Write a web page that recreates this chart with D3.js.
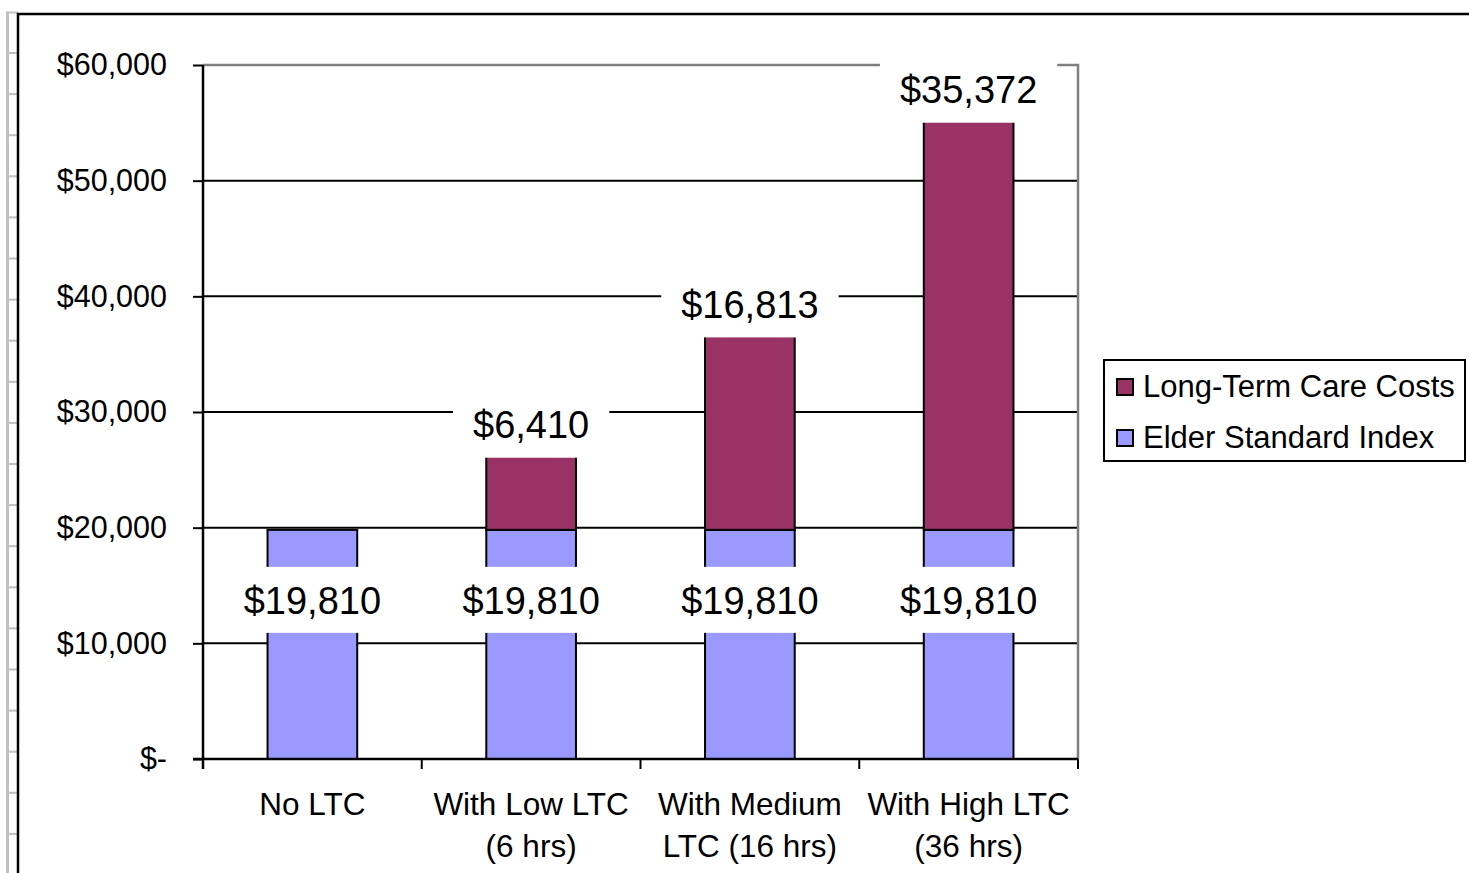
<!DOCTYPE html>
<html lang="en">
<head>
  <meta charset="utf-8">
  <title>Elder Standard Index and Long-Term Care Costs</title>
  <script src="https://d3js.org/d3.v7.min.js"></script>
  <style>
body { margin: 0; background: #fff; }
svg { display: block; font-family: "Liberation Sans", Arial, sans-serif; }
</style>
</head>
<body>
<div id="chart"></div>
<script>
// chart values
var categories = ["No LTC", "With Low LTC|(6 hrs)", "With Medium|LTC (16 hrs)", "With High LTC|(36 hrs)"];
var elderIndex = [19810, 19810, 19810, 19810];
var ltcCosts = [0, 6410, 16813, 35372];
var seriesNames = ["Long-Term Care Costs", "Elder Standard Index"];
var seriesColors = ["#993366", "#9999ff"];
var yTicks = [0, 10000, 20000, 30000, 40000, 50000, 60000];

var W = 1469, H = 873;
var plot = {left: 203, right: 1078, top: 65, bottom: 759};

var svg = d3.select("#chart").append("svg")
    .attr("width", W)
    .attr("height", H);

// spreadsheet-like frame on the left and top
svg.append("line").attr("x1", 7.5).attr("x2", 7.5).attr("y1", 12).attr("y2", H)
  .attr("stroke", "#c0c0c0").attr("stroke-width", 3);
svg.append("line").attr("x1", 6).attr("x2", 18).attr("y1", 12.5).attr("y2", 12.5)
  .attr("stroke", "#c0c0c0").attr("stroke-width", 2);
d3.range(53, H, 41.1).forEach(function(yy) {
  svg.append("line").attr("x1", 8).attr("x2", 18).attr("y1", yy).attr("y2", yy)
    .attr("stroke", "#c0c0c0").attr("stroke-width", 2);
});
svg.append("path")
  .attr("d", "M18," + H + "V14H" + W)
  .attr("fill", "none").attr("stroke", "#000").attr("stroke-width", 2.5);

var x = d3.scaleBand()
  .domain(categories)
  .range([plot.left, plot.right])
  .paddingInner(0.59)
  .paddingOuter(0.295);

var y = d3.scaleLinear()
  .domain([0, 60000])
  .range([plot.bottom, plot.top]);

// gridlines
svg.append("g").selectAll("line")
  .data(yTicks.filter(function(d) { return d > 0 && d < 60000; }))
  .enter().append("line")
    .attr("x1", plot.left).attr("x2", plot.right)
    .attr("y1", function(d) { return y(d); })
    .attr("y2", function(d) { return y(d); })
    .attr("stroke", "#000").attr("stroke-width", 2);

// plot area border (top and right, grey)
svg.append("path")
  .attr("d", "M" + plot.left + "," + y(60000) + "H" + plot.right + "V" + plot.bottom)
  .attr("fill", "none").attr("stroke", "#808080").attr("stroke-width", 2.5);

var rows = categories.map(function(c, i) {
  return {cat: c, esi: elderIndex[i], ltc: ltcCosts[i]};
});

// Elder Standard Index bars
svg.append("g").selectAll("rect")
  .data(rows)
  .enter().append("rect")
    .attr("x", function(d) { return x(d.cat); })
    .attr("width", x.bandwidth())
    .attr("y", function(d) { return y(d.esi); })
    .attr("height", function(d) { return y(0) - y(d.esi); })
    .attr("fill", seriesColors[1])
    .attr("stroke", "#000").attr("stroke-width", 2);

// Long-Term Care bars stacked on top
svg.append("g").selectAll("rect")
  .data(rows.filter(function(d) { return d.ltc > 0; }))
  .enter().append("rect")
    .attr("x", function(d) { return x(d.cat); })
    .attr("width", x.bandwidth())
    .attr("y", function(d) { return y(d.esi + d.ltc); })
    .attr("height", function(d) { return y(d.esi) - y(d.esi + d.ltc); })
    .attr("fill", seriesColors[0])
    .attr("stroke", "#000").attr("stroke-width", 2);

var money = d3.format(",");

// data labels with white boxes
function addLabel(cx, cy, txt) {
  var g = svg.append("g");
  var t = g.append("text")
    .attr("x", cx).attr("y", cy).attr("dy", "0.36em")
    .attr("text-anchor", "middle")
    .attr("font-size", 38)
    .attr("fill", "#000")
    .text(txt);
  var bb = t.node().getBBox();
  g.insert("rect", "text")
    .attr("x", bb.x - 20).attr("width", bb.width + 40)
    .attr("y", cy - 33).attr("height", 66)
    .attr("fill", "#fff");
}

rows.forEach(function(d) {
  var cx = x(d.cat) + x.bandwidth() / 2;
  addLabel(cx, y(d.esi) + 70, "$" + money(d.esi));
  if (d.ltc > 0) addLabel(cx, y(d.esi + d.ltc) - 31, "$" + money(d.ltc));
});

// y axis
var yAxis = svg.append("g")
  .attr("transform", "translate(" + plot.left + ",0)")
  .call(d3.axisLeft(y).tickValues(yTicks).tickSize(10).tickPadding(26)
    .tickFormat(function(d) { return d === 0 ? "$-" : "$" + money(d); }));
yAxis.select(".domain").attr("d", "M0," + plot.top + "V" + (plot.bottom + 10))
  .attr("stroke-width", 2.5);
yAxis.selectAll(".tick line").attr("stroke-width", 2);
yAxis.selectAll(".tick text").attr("font-size", 30.5).attr("font-family", "Liberation Sans, Arial, sans-serif")
  .attr("fill", "#000");

// x axis line and boundary ticks
svg.append("line")
  .attr("x1", plot.left - 10).attr("x2", plot.right)
  .attr("y1", plot.bottom).attr("y2", plot.bottom)
  .attr("stroke", "#000").attr("stroke-width", 2.5);
var bounds = categories.map(function(c) { return x(c) - x.step() * x.paddingInner() / 2; });
bounds.push(plot.right);
svg.append("g").selectAll("line")
  .data(bounds)
  .enter().append("line")
    .attr("x1", function(d) { return d; }).attr("x2", function(d) { return d; })
    .attr("y1", plot.bottom).attr("y2", plot.bottom + 10)
    .attr("stroke", "#000").attr("stroke-width", 2);

// category labels
svg.append("g").selectAll("text")
  .data(categories)
  .enter().append("text")
    .attr("text-anchor", "middle")
    .attr("font-size", 31.5)
    .attr("fill", "#000")
    .each(function(c) {
      var cx = x(c) + x.bandwidth() / 2;
      var parts = c.split("|");
      d3.select(this).selectAll("tspan")
        .data(parts)
        .enter().append("tspan")
          .attr("x", cx)
          .attr("y", function(p, i) { return 815 + i * 42; })
          .text(function(p) { return p; });
    });

// legend
var lg = svg.append("g").attr("transform", "translate(1104,360)");
lg.append("rect")
  .attr("width", 361).attr("height", 101)
  .attr("fill", "#fff").attr("stroke", "#000").attr("stroke-width", 2);
seriesNames.forEach(function(name, i) {
  lg.append("rect")
    .attr("x", 13).attr("y", 19 + i * 51)
    .attr("width", 16).attr("height", 16)
    .attr("fill", seriesColors[i])
    .attr("stroke", "#000").attr("stroke-width", 2);
  lg.append("text")
    .attr("x", 39).attr("y", 37 + i * 51)
    .attr("font-size", 31)
    .attr("fill", "#000")
    .text(name);
});
</script>
</body>
</html>
